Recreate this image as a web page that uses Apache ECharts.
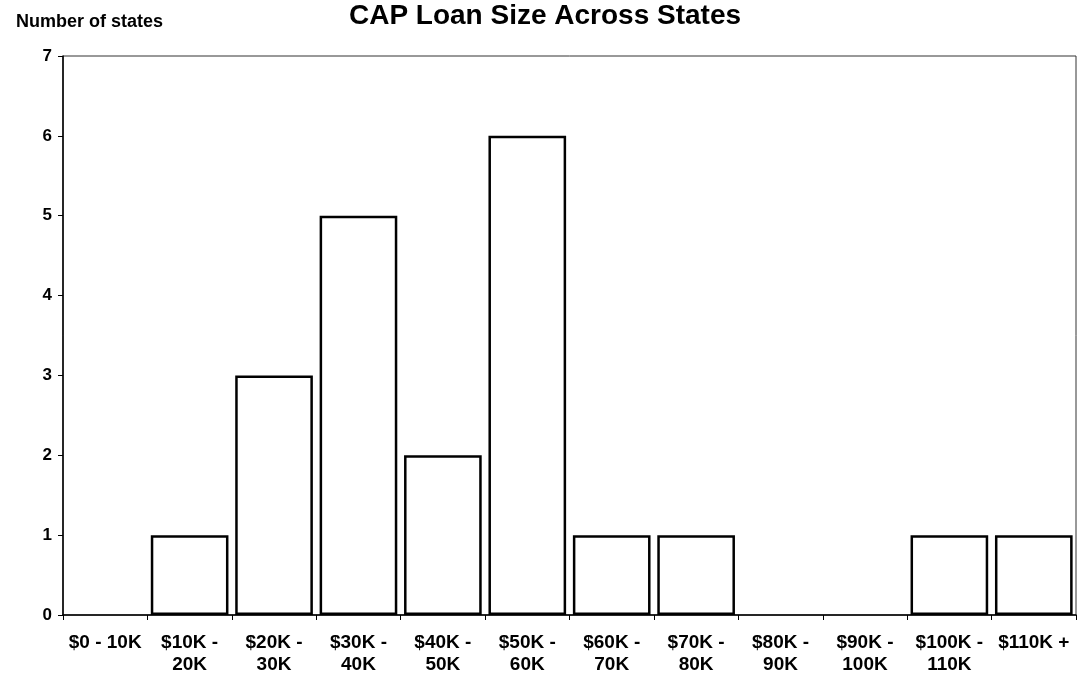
<!DOCTYPE html>
<html>
<head>
<meta charset="utf-8">
<script src="https://cdn.jsdelivr.net/npm/echarts@6/dist/echarts.min.js"></script>
<style>
html,body{margin:0;padding:0;background:#fff;}
#chart{width:1078px;height:676px;}
</style>
</head>
<body>
<div id="chart"></div>
<script>
const categories = ["$0 - 10K","$10K -\n20K","$20K -\n30K","$30K -\n40K","$40K -\n50K","$50K -\n60K","$60K -\n70K","$70K -\n80K","$80K -\n90K","$90K -\n100K","$100K -\n110K","$110K +"];
const states = [0,1,3,5,2,6,1,1,0,0,1,1];
const yTicks = [0,1,2,3,4,5,6,7];

const font = '"Liberation Sans", Arial, sans-serif';
const chart = echarts.init(document.getElementById('chart'), null, {renderer:'canvas'});
chart.setOption({
  animation:false,
  backgroundColor:'#fff',
  title:[
    {text:'CAP Loan Size Across States', left:540, top:-3, textAlign:'center',
     textStyle:{fontFamily:font, fontSize:28, fontWeight:'bold', color:'#000'}},
    {text:'Number of states', left:11, top:8,
     textStyle:{fontFamily:font, fontSize:18, fontWeight:'bold', color:'#000'}}
  ],
  grid:{left:63, right:2, top:56, bottom:61, show:true, borderColor:'#333', borderWidth:1, backgroundColor:'transparent'},
  xAxis:{
    type:'category', data:categories,
    axisLine:{lineStyle:{color:'#000', width:1.5}},
    axisTick:{show:true, alignWithLabel:false, length:5, lineStyle:{color:'#000'}},
    axisLabel:{interval:0, margin:17, fontFamily:font, fontSize:19, fontWeight:'bold', color:'#000', lineHeight:22}
  },
  yAxis:{
    type:'value', min:yTicks[0], max:yTicks[yTicks.length-1], interval:1,
    splitLine:{show:false},
    axisLine:{show:true, lineStyle:{color:'#000', width:1.5}},
    axisTick:{show:true, length:5, lineStyle:{color:'#000'}},
    axisLabel:{margin:11, fontFamily:font, fontSize:17, fontWeight:'bold', color:'#000'}
  },
  series:[{
    type:'bar', barCategoryGap:'8%',
    data: states.map(v => v === 0 ? {value:v, itemStyle:{borderWidth:0}} : v),
    itemStyle:{color:'#fff', borderColor:'#000', borderWidth:2.5}
  }]
});
</script>
</body>
</html>
